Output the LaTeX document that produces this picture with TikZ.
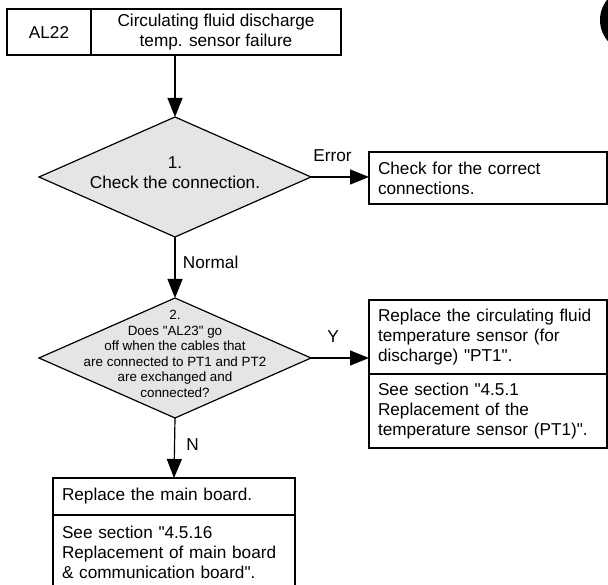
\documentclass[tikz,border=0pt]{standalone}
\usepackage{fontspec}
\newfontfamily\arial{Liberation Sans}
\usetikzlibrary{arrows.meta,shapes.geometric,positioning}
\definecolor{DecisionClr}{rgb}{0.9,0.9,0.9}
\definecolor{LineClr}{rgb}{0,0,0}

\begin{document}
\begin{tikzpicture}[x=1pt,y=-1pt,line width=1.2pt,color=LineClr,
  txt/.style={font=\arial\fontsize{17.2}{20}\selectfont},
  small/.style={font=\arial\fontsize{13.4}{15.5}\selectfont},
  cell/.style={draw,txt,inner sep=0pt,outer sep=0pt,minimum height=46pt,align=center},
  decision/.style={draw,fill=DecisionClr,diamond,inner sep=0pt,outer sep=0pt,minimum width=272pt,minimum height=120pt},
  action/.style={draw,txt,inner sep=9pt,outer sep=0pt,text width=220pt,align=left,anchor=north west},
  flow/.style={-{Triangle[length=19pt,width=15pt]}}]
\useasboundingbox (0,0) rectangle (608,585);
\clip (0,0) rectangle (608,585);

\fill (632,20) circle (32pt);

\node[cell,minimum width=84pt] (code) at (49,32) {AL22};
\node[cell,minimum width=250pt,right=0pt of code] (title) {Circulating fluid discharge\\temp. sensor failure};

\node[decision,label={[txt,align=center,yshift=4pt]center:{1.\\Check the connection.}}] (check) at (175,177) {};
\node[action,minimum height=52pt] (conn) at (369,152) {Check for the correct\\connections.};

\node[decision,label={[small,align=center,yshift=4pt]center:{2.\\Does "AL23" go\\off when the cables that\\are connected to PT1 and PT2\\are exchanged and\\connected?}}] (swap) at (175,358) {};
\node[action,minimum height=73pt] (sensor) at (369,300) {Replace the circulating fluid\\temperature sensor (for\\discharge) "PT1".};
\node[action,minimum height=74pt] (sensorref) at (sensor.south west) {See section "4.5.1\\Replacement of the\\temperature sensor (PT1)".};

\node[action,text width=224pt,minimum height=37pt] (board) at (53,478) {Replace the main board.};
\node[action,draw=none,text width=224pt,minimum height=74pt] (boardref) at (board.south west) {See section "4.5.16\\Replacement of main board\\\& communication board".};
\draw (board.south west) -- ++(0,80) (board.south east) -- ++(0,80);

\draw[flow] (check.north |- title.south) -- (check.north);
\draw[flow] (check.east) -- node[txt,pos=0.37,above=11pt]{Error} (check.east -| conn.west);
\draw[flow] (check.south) -- node[txt,pos=0.41,right=4pt]{Normal} (swap.north);
\draw[flow] (swap.east) -- node[txt,pos=0.38,above=12pt]{Y} (swap.east -| sensor.west);
\draw[flow] (swap.south) -- node[txt,pos=0.45,right=8pt]{N} (board.north);

\end{tikzpicture}
\end{document}
